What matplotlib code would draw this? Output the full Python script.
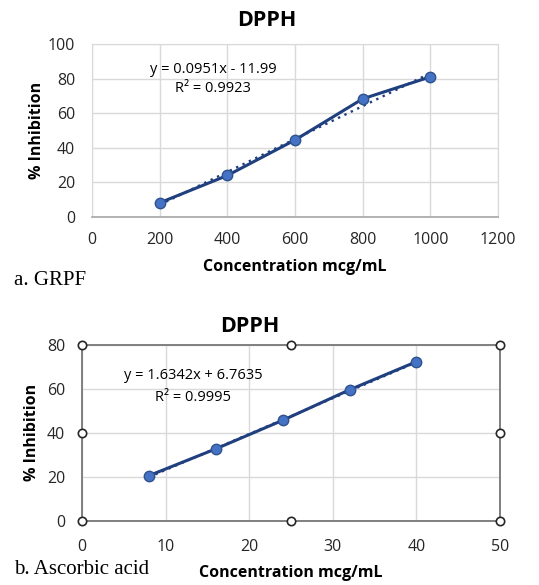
import matplotlib

matplotlib.use("Agg")
import matplotlib.pyplot as plt
import numpy as np

# ---- data ----
grpf_conc = [200, 400, 600, 800, 1000]
grpf_inhib = [8.2, 24.0, 44.5, 68.3, 81.0]
grpf_slope, grpf_icpt = 0.0951, -11.99
grpf_eq = ["y = 0.0951x - 11.99", "R² = 0.9923"]

asc_conc = [8, 16, 24, 32, 40]
asc_inhib = [20.5, 32.7, 45.7, 59.6, 72.4]
asc_slope, asc_icpt = 1.6342, 6.7635
asc_eq = ["y = 1.6342x + 6.7635", "R² = 0.9995"]

W, H = 539, 585
LINE = "#1F3F7F"
FILL = "#4472C4"
GRID = "#D9D9D9"
SANS = ["Open Sans", "DejaVu Sans"]
SERIF = ["Liberation Serif", "DejaVu Serif"]

plt.rcParams["font.family"] = SANS

fig = plt.figure(figsize=(W / 100, H / 100), dpi=100)


def px_axes(left, top, right, bottom):
    return fig.add_axes([left / W, 1 - bottom / H, (right - left) / W, (bottom - top) / H])


def style(ax, xticks, yticks, xlim, ylim, pad_x, pad_y):
    ax.set_xlim(*xlim)
    ax.set_ylim(*ylim)
    ax.set_xticks(xticks)
    ax.set_yticks(yticks)
    ax.grid(True, color=GRID, linewidth=1.0)
    ax.set_axisbelow(True)
    ax.tick_params(length=0, labelsize=11.5, labelcolor="#262626")
    ax.tick_params(axis="x", pad=pad_x)
    ax.tick_params(axis="y", pad=pad_y)
    ax.set_xlabel("Concentration mcg/mL", fontsize=11.5, fontweight="bold")
    ax.set_ylabel("% Inhibition", fontsize=11.5, fontweight="bold")
    ax.xaxis.label.set_verticalalignment("center")
    ax.yaxis.label.set_verticalalignment("center")


def draw_series(ax, x, y, slope, icpt):
    xs = np.array([x[0], x[-1]])
    ax.plot(xs, slope * xs + icpt, linestyle=(0, (1, 2)), color=LINE, linewidth=1.7, zorder=3)
    ax.plot(x, y, color=LINE, linewidth=2.2, marker="o", markersize=7.5,
            markerfacecolor=FILL, markeredgecolor="#2F528F", markeredgewidth=1.0, zorder=4)


# ---- a. GRPF ----
ax1 = px_axes(92, 44, 498, 217)
style(ax1, range(0, 1201, 200), range(0, 101, 20), (0, 1200), (0, 100), 11, 12)
for s in ["left", "right", "top"]:
    ax1.spines[s].set_color(GRID)
ax1.spines["bottom"].set_color("#A6A6A6")
ax1.spines["bottom"].set_linewidth(1.2)
draw_series(ax1, grpf_conc, grpf_inhib, grpf_slope, grpf_icpt)
ax1.text(0.298, 0.855, grpf_eq[0], transform=ax1.transAxes, ha="center", va="center", fontsize=10.5)
ax1.text(0.298, 0.74, grpf_eq[1], transform=ax1.transAxes, ha="center", va="center", fontsize=10.5)
ax1.xaxis.set_label_coords(0.5, -0.289)
ax1.yaxis.set_label_coords(-0.135, 0.5)
fig.text(267 / W, 1 - 21 / H, "DPPH", ha="center", va="center", fontsize=15.5, fontweight="bold")
fig.text(14 / W, 1 - 280 / H, "a. GRPF", ha="left", va="center", fontsize=15, family=SERIF)

# ---- b. Ascorbic acid ----
ax2 = px_axes(82, 345, 500, 520.7)
style(ax2, range(0, 51, 10), range(0, 81, 20), (0, 50), (0, 80), 13, 12)
for s in ax2.spines.values():
    s.set_color("#7F7F7F")
    s.set_linewidth(1.4)
draw_series(ax2, asc_conc, asc_inhib, asc_slope, asc_icpt)
# selection handles on the chart frame
x0, x1 = ax2.get_xlim()
y0, y1 = ax2.get_ylim()
hx = [x0, (x0 + x1) / 2, x1, x0, x1, x0, (x0 + x1) / 2, x1]
hy = [y0, y0, y0, (y0 + y1) / 2, (y0 + y1) / 2, y1, y1, y1]
ax2.plot(hx, hy, linestyle="none", marker="o", markersize=6, markerfacecolor="white",
         markeredgecolor="#262626", markeredgewidth=1.2, clip_on=False, zorder=6)
ax2.text(0.266, 0.829, asc_eq[0], transform=ax2.transAxes, ha="center", va="center", fontsize=10.5)
ax2.text(0.266, 0.704, asc_eq[1], transform=ax2.transAxes, ha="center", va="center", fontsize=10.5)
ax2.xaxis.set_label_coords(0.5, -0.298)
ax2.yaxis.set_label_coords(-0.12, 0.5)
fig.text(250 / W, 1 - 327 / H, "DPPH", ha="center", va="center", fontsize=15.5, fontweight="bold")
fig.text(14 / W, 1 - 569 / H, "b. Ascorbic acid", ha="left", va="center", fontsize=15, family=SERIF)

fig.savefig("out.png", dpi=100)
